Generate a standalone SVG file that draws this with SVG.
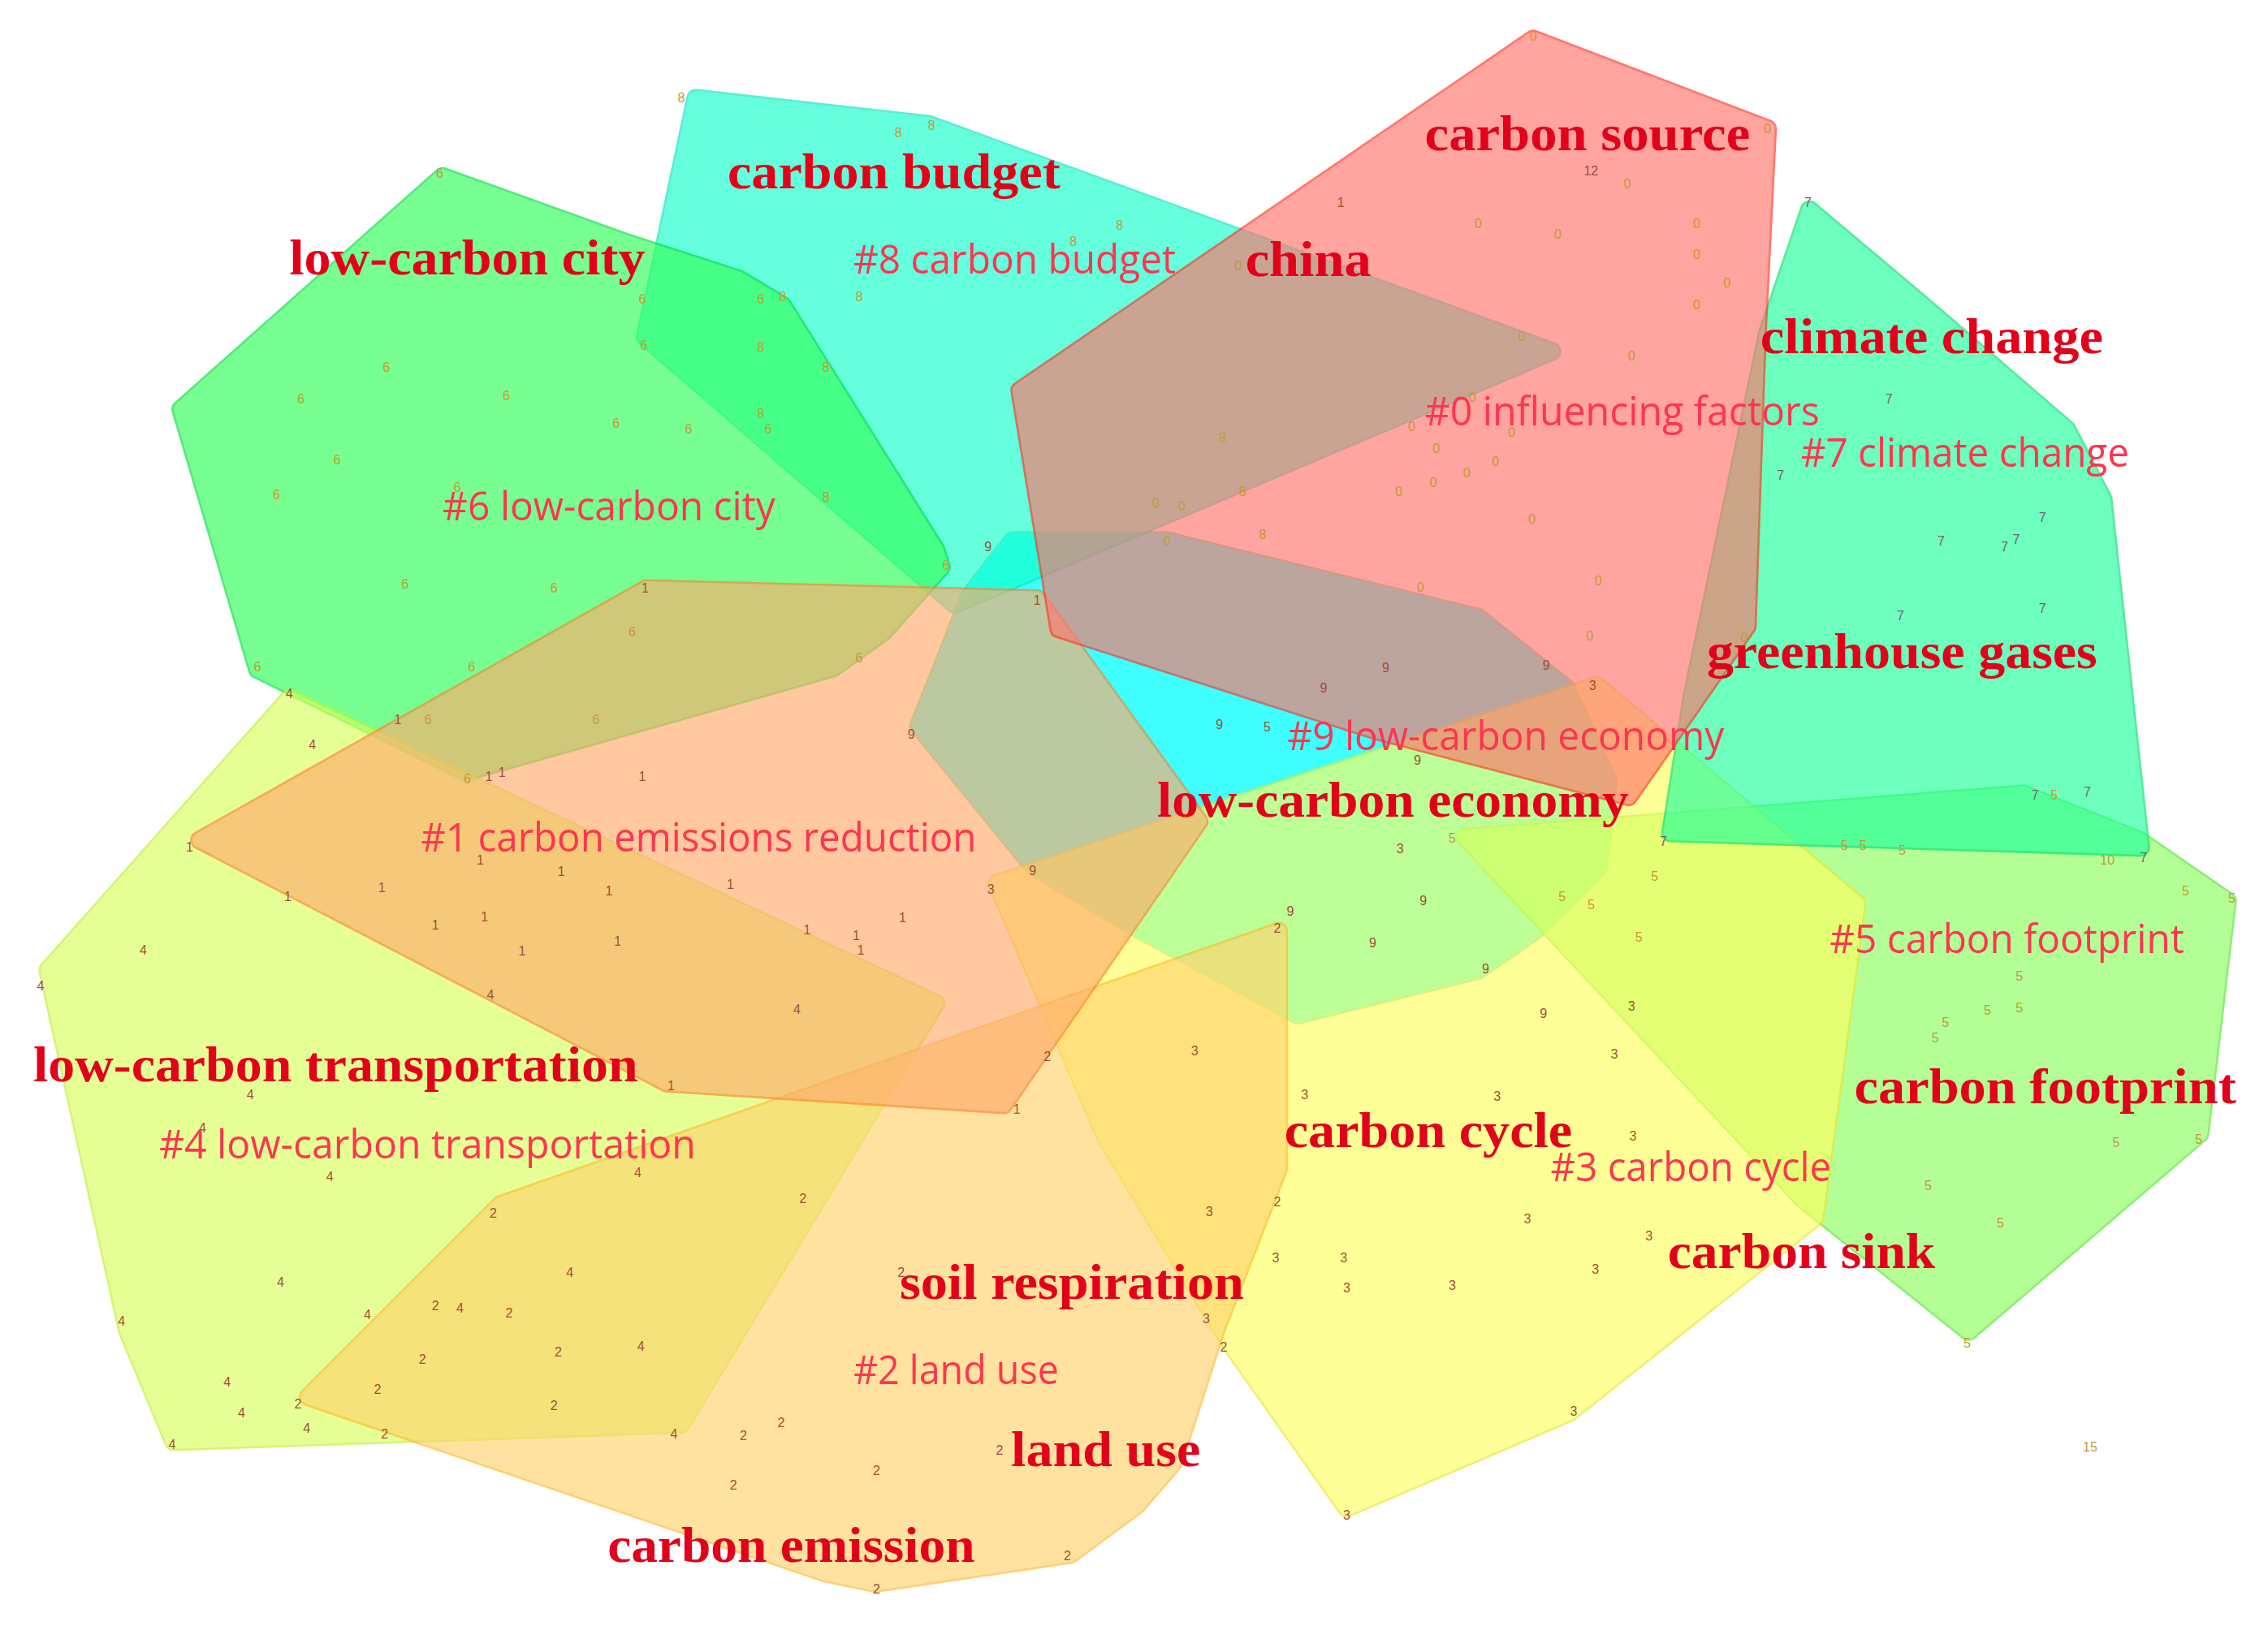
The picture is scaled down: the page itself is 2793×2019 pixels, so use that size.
<svg xmlns="http://www.w3.org/2000/svg" width="2793" height="2019" viewBox="0 0 2793 2019">
<style>
.ring{fill:none;stroke-width:13;stroke-linejoin:round}
.body{stroke-width:10;stroke-linejoin:round}
.k{font-family:"Liberation Serif",serif;font-weight:bold;font-size:34px;fill:#E3001B}
.c{font-family:"Open Sans","Liberation Sans",sans-serif;font-size:28px;fill:#FF3550}
.d{font-family:"Liberation Sans",sans-serif;font-size:9px;text-anchor:middle}
.o{fill:#C49A38}.b{fill:#9E5038}.g{fill:#7A5E6E}
</style>
<rect width="2793" height="2019" fill="#FFFFFF"/>
<g transform="scale(1.78125)">
<g id="clusters">
<g id="cluster-9" opacity="0.75">
<polygon class="ring" stroke="#50D8B0" points="700,374 807,374 1022,427 1083,476 1112,540 1105,600 1061,644 1022,671 897,702 786,642 714,599 635,502 671,411"/>
<polygon class="body" fill="#00FFFF" stroke="#00FFFF" points="700,374 807,374 1022,427 1083,476 1112,540 1105,600 1061,644 1022,671 897,702 786,642 714,599 635,502 671,411"/>
</g>
<g id="cluster-8" opacity="0.65">
<polygon class="ring" stroke="#00E8C0" points="481,68 642,86 1073,243 660,418 446,233"/>
<polygon class="body" fill="#14FFCB" stroke="#14FFCB" points="481,68 642,86 1073,243 660,418 446,233"/>
</g>
<g id="cluster-6" opacity="0.67">
<polygon class="ring" stroke="#00E040" points="306,122 431,167 511,193 541,211 647,380 651,392 611,437 576,462 322,534 178,463 125,283"/>
<polygon class="body" fill="#36FF5C" stroke="#36FF5C" points="306,122 431,167 511,193 541,211 647,380 651,392 611,437 576,462 322,534 178,463 125,283"/>
</g>
<g id="cluster-4" opacity="0.65">
<polygon class="ring" stroke="#C0F030" points="200,483 647,694 471,985 120,997 88,920 33,671"/>
<polygon class="body" fill="#D9FF5E" stroke="#D9FF5E" points="200,483 647,694 471,985 120,997 88,920 33,671"/>
</g>
<g id="cluster-5" opacity="0.65">
<polygon class="ring" stroke="#50E830" points="1013,579 1399,549 1479,581 1540,623 1521,784 1361,921 1246,829"/>
<polygon class="body" fill="#8CFF5E" stroke="#8CFF5E" points="1013,579 1399,549 1479,581 1540,623 1521,784 1361,921 1246,829"/>
</g>
<g id="cluster-3" opacity="0.65">
<polygon class="ring" stroke="#E8E830" points="689,611 1104,474 1284,625 1255,842 1085,977 931,1043 851,930 764,786"/>
<polygon class="body" fill="#FFFF61" stroke="#FFFF61" points="689,611 1104,474 1284,625 1255,842 1085,977 931,1043 851,930 764,786"/>
</g>
<g id="cluster-2" opacity="0.65">
<polygon class="ring" stroke="#FFB830" points="213,966 346,833 884,644 884,808 841,919 811,1012 786,1041 740,1075 605,1095 571,1088"/>
<polygon class="body" fill="#FFD46D" stroke="#FFD46D" points="213,966 346,833 884,644 884,808 841,919 811,1012 786,1041 740,1075 605,1095 571,1088"/>
</g>
<g id="cluster-1" opacity="0.65">
<polygon class="ring" stroke="#FF8030" points="447,407 717,414 829,568 694,764 461,749 138,581"/>
<polygon class="body" fill="#FFAB6D" stroke="#FFAB6D" points="447,407 717,414 829,568 694,764 461,749 138,581"/>
</g>
<g id="cluster-7" opacity="0.65">
<polygon class="ring" stroke="#00E070" points="1251,145 1334,215 1429,297 1454,345 1480,586 1155,576 1170,480 1222,230"/>
<polygon class="body" fill="#20FF9B" stroke="#20FF9B" points="1251,145 1334,215 1429,297 1454,345 1480,586 1155,576 1170,480 1222,230"/>
</g>
<g id="cluster-0" opacity="0.65">
<polygon class="ring" stroke="#FF3020" points="1060,27 1222,89 1215,230 1208,433 1126,551 950,505 732,435 705,270"/>
<polygon class="body" fill="#FF756D" stroke="#FF756D" points="1060,27 1222,89 1215,230 1208,433 1126,551 950,505 732,435 705,270"/>
</g>
</g>
<g id="nodes">
<g class="d o">
<text x="1060" y="28">0</text><text x="1222" y="92">0</text><text x="1125" y="130">0</text><text x="1022" y="158">0</text><text x="1077" y="165">0</text><text x="1173" y="158">0</text><text x="1173" y="179">0</text><text x="1194" y="199">0</text><text x="1173" y="214">0</text><text x="1052" y="236">0</text><text x="1128" y="249">0</text><text x="856" y="187">0</text><text x="1018" y="278">0</text><text x="976" y="298">0</text><text x="1045" y="302">0</text><text x="993" y="313">0</text><text x="1034" y="322">0</text><text x="1014" y="330">0</text><text x="991" y="337">0</text><text x="967" y="343">0</text><text x="1059" y="362">0</text><text x="799" y="351">0</text><text x="817" y="353">0</text><text x="807" y="377">0</text><text x="1105" y="405">0</text><text x="982" y="409">0</text><text x="1099" y="443">0</text><text x="1206" y="444">0</text>
<text x="471" y="71">8</text><text x="621" y="95">8</text><text x="644" y="90">8</text><text x="541" y="208">8</text><text x="594" y="208">8</text><text x="526" y="243">8</text><text x="571" y="257">8</text><text x="526" y="289">8</text><text x="571" y="347">8</text><text x="774" y="159">8</text><text x="742" y="170">8</text><text x="845" y="306">8</text><text x="859" y="343">8</text><text x="873" y="373">8</text>
<text x="304" y="123">6</text><text x="267" y="257">6</text><text x="208" y="279">6</text><text x="350" y="277">6</text><text x="426" y="296">6</text><text x="476" y="300">6</text><text x="233" y="321">6</text><text x="191" y="345">6</text><text x="316" y="340">6</text><text x="280" y="407">6</text><text x="383" y="410">6</text><text x="326" y="464">6</text><text x="178" y="464">6</text><text x="437" y="440">6</text><text x="296" y="501">6</text><text x="412" y="501">6</text><text x="594" y="458">6</text><text x="654" y="394">6</text><text x="444" y="210">6</text><text x="445" y="242">6</text><text x="526" y="210">6</text><text x="531" y="300">6</text><text x="323" y="542">6</text>
<text x="1004" y="583">5</text><text x="1080" y="623">5</text><text x="1100" y="629">5</text><text x="1133" y="651">5</text><text x="1144" y="609">5</text><text x="1275" y="588">5</text><text x="1288" y="588">5</text><text x="1315" y="591">5</text><text x="1511" y="619">5</text><text x="1543" y="624">5</text><text x="1396" y="678">5</text><text x="1374" y="702">5</text><text x="1396" y="700">5</text><text x="1345" y="710">5</text><text x="1338" y="721">5</text><text x="1463" y="793">5</text><text x="1520" y="791">5</text><text x="1333" y="823">5</text><text x="1383" y="849">5</text><text x="1360" y="932">5</text><text x="1420" y="553">5</text><text x="1457" y="598">10</text><text x="1445" y="1004">15</text>
</g>
<g class="d g">
<text x="1250" y="143">7</text><text x="1306" y="279">7</text><text x="1231" y="332">7</text><text x="1412" y="361">7</text><text x="1342" y="377">7</text><text x="1386" y="381">7</text><text x="1394" y="376">7</text><text x="1314" y="429">7</text><text x="1412" y="424">7</text><text x="1407" y="553">7</text><text x="1443" y="551">7</text><text x="1150" y="585">7</text><text x="1482" y="596">7</text>
</g>
<g class="d b">
<text x="1100" y="121">12</text><text x="927" y="143">1</text>
<text x="958" y="465">9</text><text x="915" y="479">9</text><text x="1069" y="463">9</text><text x="843" y="504">9</text><text x="980" y="529">9</text><text x="892" y="633">9</text><text x="984" y="626">9</text><text x="949" y="655">9</text><text x="1027" y="673">9</text><text x="1067" y="704">9</text><text x="714" y="605">9</text><text x="630" y="511">9</text><text x="683" y="381">9</text><text x="876" y="506">5</text>
<text x="1101" y="477">3</text><text x="685" y="618">3</text>
<text x="446" y="410">1</text><text x="275" y="501">1</text><text x="338" y="540">1</text><text x="347" y="537">1</text><text x="444" y="540">1</text><text x="717" y="418">1</text><text x="131" y="589">1</text><text x="199" y="623">1</text><text x="264" y="617">1</text><text x="332" y="598">1</text><text x="388" y="606">1</text><text x="421" y="619">1</text><text x="505" y="615">1</text><text x="301" y="643">1</text><text x="335" y="637">1</text><text x="361" y="661">1</text><text x="427" y="654">1</text><text x="558" y="646">1</text><text x="592" y="650">1</text><text x="595" y="660">1</text><text x="624" y="638">1</text><text x="464" y="754">1</text><text x="703" y="770">1</text>
<text x="200" y="483">4</text><text x="216" y="518">4</text><text x="99" y="660">4</text><text x="28" y="685">4</text><text x="339" y="691">4</text><text x="551" y="701">4</text><text x="173" y="760">4</text><text x="140" y="783">4</text><text x="228" y="817">4</text><text x="441" y="814">4</text><text x="394" y="883">4</text><text x="194" y="890">4</text><text x="84" y="917">4</text><text x="254" y="912">4</text><text x="318" y="908">4</text><text x="443" y="934">4</text><text x="157" y="959">4</text><text x="167" y="980">4</text><text x="212" y="991">4</text><text x="119" y="1002">4</text><text x="466" y="995">4</text>
<text x="341" y="842">2</text><text x="555" y="832">2</text><text x="301" y="906">2</text><text x="352" y="911">2</text><text x="292" y="943">2</text><text x="386" y="938">2</text><text x="261" y="964">2</text><text x="206" y="974">2</text><text x="383" y="975">2</text><text x="266" y="995">2</text><text x="514" y="996">2</text><text x="540" y="987">2</text><text x="606" y="1020">2</text><text x="507" y="1030">2</text><text x="691" y="1006">2</text><text x="738" y="1079">2</text><text x="606" y="1102">2</text><text x="623" y="883">2</text><text x="724" y="734">2</text><text x="883" y="645">2</text><text x="883" y="834">2</text><text x="846" y="935">2</text>
<text x="968" y="590">3</text><text x="826" y="730">3</text><text x="902" y="760">3</text><text x="1035" y="761">3</text><text x="1116" y="732">3</text><text x="1128" y="699">3</text><text x="1129" y="789">3</text><text x="1056" y="846">3</text><text x="1140" y="858">3</text><text x="1103" y="881">3</text><text x="836" y="841">3</text><text x="882" y="873">3</text><text x="929" y="873">3</text><text x="931" y="894">3</text><text x="1004" y="892">3</text><text x="834" y="915">3</text><text x="1088" y="979">3</text><text x="931" y="1051">3</text>
</g>
</g>
<g id="cluster-labels">
<text class="c" x="590" y="189" textLength="223" lengthAdjust="spacingAndGlyphs">#8 carbon budget</text>
<text class="c" x="306" y="360" textLength="230" lengthAdjust="spacingAndGlyphs">#6 low-carbon city</text>
<text class="c" x="985" y="294" textLength="273" lengthAdjust="spacingAndGlyphs">#0 influencing factors</text>
<text class="c" x="1245" y="323" textLength="227" lengthAdjust="spacingAndGlyphs">#7 climate change</text>
<text class="c" x="890" y="519" textLength="302" lengthAdjust="spacingAndGlyphs">#9 low-carbon economy</text>
<text class="c" x="291" y="589" textLength="384" lengthAdjust="spacingAndGlyphs">#1 carbon emissions reduction</text>
<text class="c" x="110" y="801" textLength="371" lengthAdjust="spacingAndGlyphs">#4 low-carbon transportation</text>
<text class="c" x="590" y="957" textLength="142" lengthAdjust="spacingAndGlyphs">#2 land use</text>
<text class="c" x="1072" y="817" textLength="194" lengthAdjust="spacingAndGlyphs">#3 carbon cycle</text>
<text class="c" x="1265" y="659" textLength="245" lengthAdjust="spacingAndGlyphs">#5 carbon footprint</text>
</g>
<g id="keyword-labels">
<text class="k" x="985" y="104" textLength="225" lengthAdjust="spacingAndGlyphs">carbon source</text>
<text class="k" x="503" y="130" textLength="230" lengthAdjust="spacingAndGlyphs">carbon budget</text>
<text class="k" x="200" y="190" textLength="246" lengthAdjust="spacingAndGlyphs">low-carbon city</text>
<text class="k" x="861" y="191" textLength="87" lengthAdjust="spacingAndGlyphs">china</text>
<text class="k" x="1217" y="244" textLength="237" lengthAdjust="spacingAndGlyphs">climate change</text>
<text class="k" x="1180" y="462" textLength="270" lengthAdjust="spacingAndGlyphs">greenhouse gases</text>
<text class="k" x="800" y="565" textLength="326" lengthAdjust="spacingAndGlyphs">low-carbon economy</text>
<text class="k" x="23" y="748" textLength="418" lengthAdjust="spacingAndGlyphs">low-carbon transportation</text>
<text class="k" x="888" y="793" textLength="199" lengthAdjust="spacingAndGlyphs">carbon cycle</text>
<text class="k" x="1282" y="763" textLength="264" lengthAdjust="spacingAndGlyphs">carbon footprint</text>
<text class="k" x="1153" y="877" textLength="185" lengthAdjust="spacingAndGlyphs">carbon sink</text>
<text class="k" x="622" y="898" textLength="238" lengthAdjust="spacingAndGlyphs">soil respiration</text>
<text class="k" x="699" y="1014" textLength="131" lengthAdjust="spacingAndGlyphs">land use</text>
<text class="k" x="420" y="1080" textLength="254" lengthAdjust="spacingAndGlyphs">carbon emission</text>
</g>
</g>
</svg>
